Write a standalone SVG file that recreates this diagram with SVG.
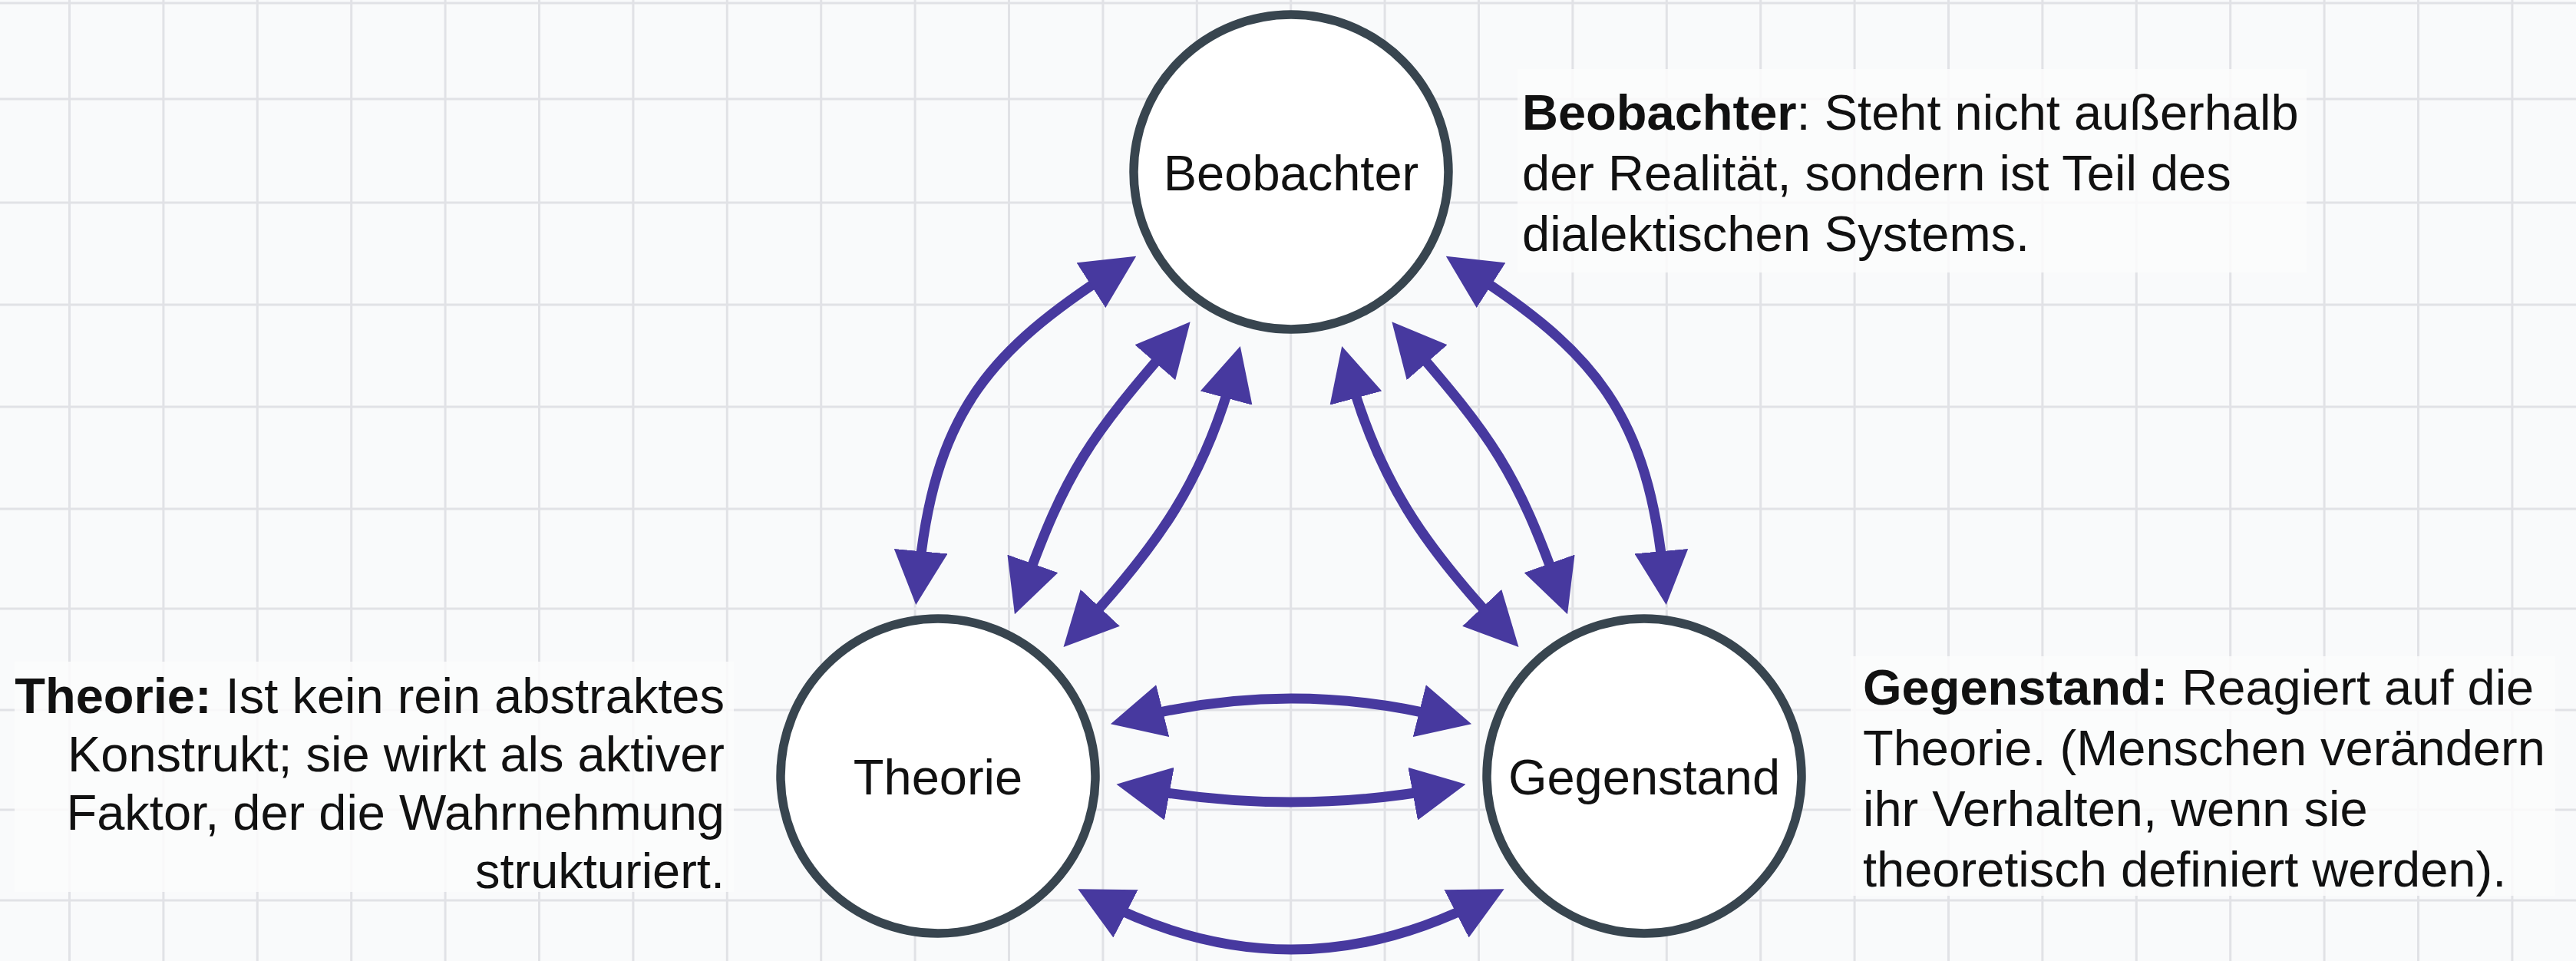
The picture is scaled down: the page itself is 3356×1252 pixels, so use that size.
<svg xmlns="http://www.w3.org/2000/svg" width="3356" height="1252" viewBox="0 0 3356 1252">
<defs>
<style>
.grid line{stroke:#e1e2e6;stroke-width:3}
.node circle{fill:#ffffff;stroke:#38454f;stroke-width:11.5}
.lbl{font-family:"Liberation Sans",Arial,Helvetica,sans-serif;font-size:65px;fill:#111111}
.desc{font-family:"Liberation Sans",Arial,Helvetica,sans-serif;font-size:65px;fill:#111111}
.b{font-weight:bold}
.box{fill:#fbfbfc;fill-opacity:0.85}
.conn path{fill:none;stroke:#47399f;stroke-width:13;marker-start:url(#ah);marker-end:url(#ah)}
</style>
<marker id="ah" viewBox="0 0 70 70" refX="40" refY="35" markerWidth="70" markerHeight="70" markerUnits="userSpaceOnUse" orient="auto-start-reverse">
<path d="M0,0 L70,35 L0,70 z" fill="#47399f"/>
</marker>
</defs>
<rect x="0" y="0" width="3356" height="1252" fill="#f9fafb"/>
<g class="grid">
<line x1="0" y1="4" x2="3356" y2="4"/>
<line x1="0" y1="129" x2="3356" y2="129"/>
<line x1="0" y1="264" x2="3356" y2="264"/>
<line x1="0" y1="397" x2="3356" y2="397"/>
<line x1="0" y1="530" x2="3356" y2="530"/>
<line x1="0" y1="663" x2="3356" y2="663"/>
<line x1="0" y1="793" x2="3356" y2="793"/>
<line x1="0" y1="925" x2="3356" y2="925"/>
<line x1="0" y1="1055" x2="3356" y2="1055"/>
<line x1="0" y1="1173" x2="3356" y2="1173"/>
<line x1="90.5" y1="0" x2="90.5" y2="1252"/>
<line x1="212.9" y1="0" x2="212.9" y2="1252"/>
<line x1="335.3" y1="0" x2="335.3" y2="1252"/>
<line x1="457.7" y1="0" x2="457.7" y2="1252"/>
<line x1="580.1" y1="0" x2="580.1" y2="1252"/>
<line x1="702.5" y1="0" x2="702.5" y2="1252"/>
<line x1="824.9" y1="0" x2="824.9" y2="1252"/>
<line x1="947.3" y1="0" x2="947.3" y2="1252"/>
<line x1="1069.7" y1="0" x2="1069.7" y2="1252"/>
<line x1="1192.1" y1="0" x2="1192.1" y2="1252"/>
<line x1="1314.5" y1="0" x2="1314.5" y2="1252"/>
<line x1="1436.9" y1="0" x2="1436.9" y2="1252"/>
<line x1="1559.3" y1="0" x2="1559.3" y2="1252"/>
<line x1="1681.7" y1="0" x2="1681.7" y2="1252"/>
<line x1="1804.1" y1="0" x2="1804.1" y2="1252"/>
<line x1="1926.5" y1="0" x2="1926.5" y2="1252"/>
<line x1="2048.9" y1="0" x2="2048.9" y2="1252"/>
<line x1="2171.3" y1="0" x2="2171.3" y2="1252"/>
<line x1="2293.7" y1="0" x2="2293.7" y2="1252"/>
<line x1="2416.1" y1="0" x2="2416.1" y2="1252"/>
<line x1="2538.5" y1="0" x2="2538.5" y2="1252"/>
<line x1="2660.9" y1="0" x2="2660.9" y2="1252"/>
<line x1="2783.3" y1="0" x2="2783.3" y2="1252"/>
<line x1="2905.7" y1="0" x2="2905.7" y2="1252"/>
<line x1="3028.1" y1="0" x2="3028.1" y2="1252"/>
<line x1="3150.5" y1="0" x2="3150.5" y2="1252"/>
<line x1="3272.9" y1="0" x2="3272.9" y2="1252"/>
</g>
<g class="conn" id="connectors">
<path d="M1455,350 C1287,458 1216,539 1196,758"/>
<path d="M1531,442 C1420,570 1389,612 1332,772"/>
<path d="M1608,480 C1569,625 1508,712 1406,821"/>
<path d="M1909,350 C2077,458 2148,539 2168,758"/>
<path d="M1833,442 C1944,570 1975,612 2032,772"/>
<path d="M1756,480 C1795,625 1856,712 1958,821"/>
<path d="M1476,936 Q1682,884 1888,936"/>
<path d="M1484,1027 Q1682,1063 1880,1027"/>
<path d="M1431,1172 Q1682,1302 1933,1172"/>
</g>
<g class="node" id="beobachter">
<circle cx="1682" cy="224" r="205"/>
<text class="lbl" x="1682" y="248" text-anchor="middle">Beobachter</text>
</g>
<g class="node" id="theorie">
<circle cx="1222" cy="1011" r="205"/>
<text class="lbl" x="1222" y="1035" text-anchor="middle">Theorie</text>
</g>
<g class="node" id="gegenstand">
<circle cx="2142" cy="1011" r="205"/>
<text class="lbl" x="2142" y="1035" text-anchor="middle">Gegenstand</text>
</g>
<g id="note-beobachter">
<rect class="box" x="1977" y="90" width="1028" height="265"/>
<text class="desc" x="1983" y="169"><tspan class="b">Beobachter</tspan>: Steht nicht außerhalb</text>
<text class="desc" x="1983" y="248">der Realität, sondern ist Teil des</text>
<text class="desc" x="1983" y="327">dialektischen Systems.</text>
</g>
<g id="note-theorie">
<rect class="box" x="19" y="862" width="937" height="300"/>
<text class="desc" x="944" y="929" text-anchor="end"><tspan class="b">Theorie:</tspan> Ist kein rein abstraktes</text>
<text class="desc" x="944" y="1005" text-anchor="end">Konstrukt; sie wirkt als aktiver</text>
<text class="desc" x="944" y="1081" text-anchor="end">Faktor, der die Wahrnehmung</text>
<text class="desc" x="944" y="1157" text-anchor="end">strukturiert.</text>
</g>
<g id="note-gegenstand">
<rect class="box" x="2411" y="855" width="918" height="312"/>
<text class="desc" x="2427" y="918"><tspan class="b">Gegenstand:</tspan> Reagiert auf die</text>
<text class="desc" x="2427" y="997">Theorie. (Menschen verändern</text>
<text class="desc" x="2427" y="1076">ihr Verhalten, wenn sie</text>
<text class="desc" x="2427" y="1155">theoretisch definiert werden).</text>
</g>
</svg>
